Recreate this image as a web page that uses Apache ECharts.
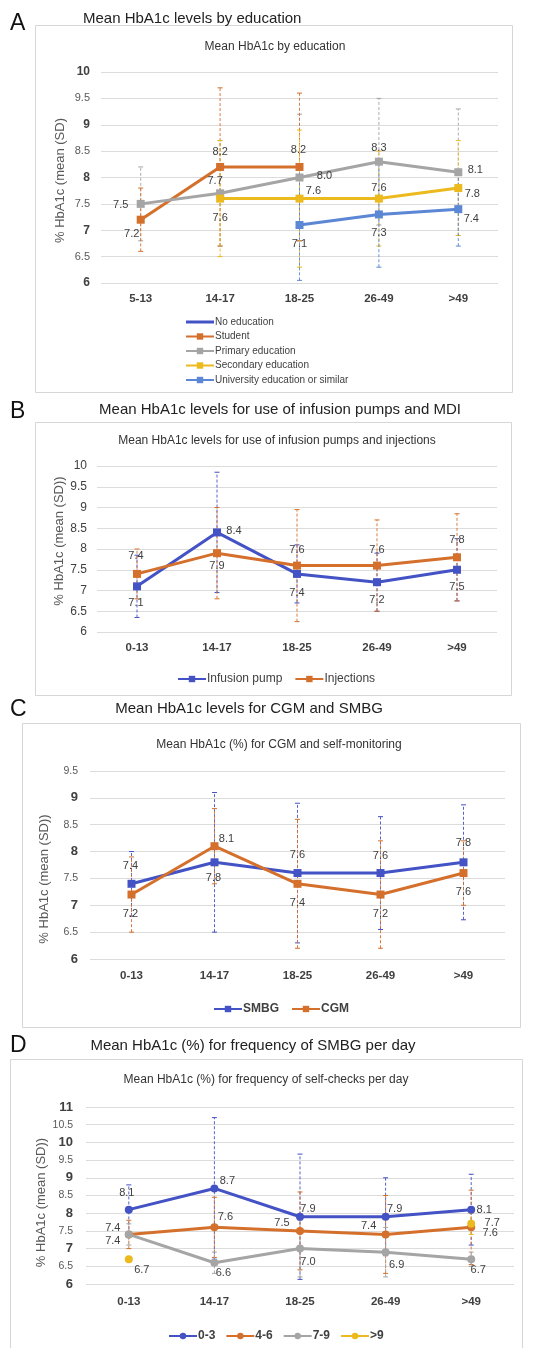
<!DOCTYPE html>
<html><head><meta charset="utf-8">
<script src="https://cdn.jsdelivr.net/npm/echarts@6/dist/echarts.min.js"></script>
<style>html,body{margin:0;padding:0;background:#fff;} #c{width:556px;height:1348px;}</style>
</head><body><div id="c"></div>
<script>
// ---------- DATA ----------
const ageCatsA = ['5-13', '14-17', '18-25', '26-49', '>49'];
const ageCats = ['0-13', '14-17', '18-25', '26-49', '>49'];

// Panel A: education
const noEducation = [null, null, null, null, null];
const student = [7.2, 8.2, 8.2, null, null];
const studentSD = [0.6, 1.5, 1.4, null, null];
const primaryEdu = [7.5, 7.7, 8.0, 8.3, 8.1];
const primaryEduSD = [0.7, 1.0, 1.2, 1.2, 1.2];
const secondaryEdu = [null, 7.6, 7.6, 7.6, 7.8];
const secondaryEduSD = [null, 1.1, 1.3, 0.9, 0.9];
const universityEdu = [null, null, 7.1, 7.3, 7.4];
const universityEduSD = [null, null, 1.05, 1.0, 0.7];

// Panel B: infusion pump vs injections
const infusionPump = [7.1, 8.4, 7.4, 7.2, 7.5];
const infusionPumpSD = [0.75, 1.45, 0.7, 0.7, 0.75];
const injections = [7.4, 7.9, 7.6, 7.6, 7.8];
const injectionsSD = [0.6, 1.1, 1.35, 1.1, 1.05];

// Panel C: SMBG vs CGM
const smbg = [7.4, 7.8, 7.6, 7.6, 7.8];
const smbgSD = [0.6, 1.3, 1.3, 1.05, 1.07];
const cgm = [7.2, 8.1, 7.4, 7.2, 7.6];
const cgmSD = [0.7, 0.7, 1.2, 1.0, 0.6];

// Panel D: frequency of self-checks per day
const freq03 = [8.1, 8.7, 7.9, 7.9, 8.1];
const freq03SD = [0.7, 2.0, 1.77, 1.1, 1.0];
const freq46 = [7.4, 7.6, 7.5, 7.4, 7.6];
const freq46SD = [0.4, 0.85, 1.1, 1.1, 1.05];
const freq79 = [7.4, 6.6, 7.0, 6.9, 6.7];
const freq79SD = [0.3, 0.3, 0.8, 0.7, 0.2];
const freq9 = [6.7, null, null, null, 7.7];
const freq9SD = [null, null, null, null, 0.3];

// ---------- STYLE ----------
const C_BLUE = '#4352c4', C_ORANGE = '#d4702c', C_GRAY = '#a5a5a5', C_YELLOW = '#ecba1e', C_LBLUE = '#5b87d4';
const FONT = '"Liberation Sans", Arial, sans-serif';
const TXT = '#404040';

// label offsets (style only): [dx, dy] from the marker centre
const offA = {
  student: [[-9, 14], [0, -15], [-1, -17], null, null],
  primary: [[-20, 1], [-5, -12], [25, -2], [0, -14], [17, -2]],
  secondary: [null, [0, 19], [14, -8], [0, -11], [14, 6]],
  university: [null, null, [0, 19], [0, 19], [13, 10]]
};
const offB = {
  pump: [[-1, 17], [17, -1], [0, 19], [0, 18], [0, 17]],
  inj: [[-1, -18], [0, 13], [0, -16], [0, -16], [0, -17]]
};
const offC = {
  smbg: [[-1, -18], [-1, 16], [0, -18], [0, -17], [0, -19]],
  cgm: [[-1, 19], [12, -7], [0, 19], [0, 19], [0, 19]]
};
const offD = {
  f03: [[-2, -17], [13, -7], [8, -8], [9, -8], [13, 0]],
  f46: [[-16, -6], [11, -10], [-18, -8], [-17, -8], [19, 6]],
  f79: [[-16, 7], [9, 10], [8, 13], [11, 13], [7, 11]],
  f9: [[13, 11], null, null, null, [21, -1]]
};

function lineSeries(name, values, color, idx, offsets, symbol, symbolSize, lw) {
  return {
    type: 'line', name: name, xAxisIndex: idx, yAxisIndex: idx, z: 3,
    symbol: symbol, symbolSize: symbolSize, showSymbol: symbol !== 'none',
    lineStyle: { color: color, width: lw }, itemStyle: { color: color },
    connectNulls: false, animation: false,
    data: values.map((v, i) => v == null ? '-' : {
      value: v,
      label: { show: true, position: 'inside', offset: offsets ? offsets[i] : [0, 0],
        formatter: p => Number(p.value).toFixed(1), color: TXT, fontSize: 11, fontFamily: FONT }
    })
  };
}

function errorSeries(name, values, sds, color, idx) {
  const data = [];
  values.forEach((v, i) => { if (v != null && sds[i] != null) data.push([i, v - sds[i], v + sds[i]]); });
  return {
    type: 'custom', name: name, xAxisIndex: idx, yAxisIndex: idx, z: 1, animation: false, silent: true,
    renderItem: function (params, api) {
      const lo = api.coord([api.value(0), api.value(1)]);
      const hi = api.coord([api.value(0), api.value(2)]);
      const st = { stroke: color, lineWidth: 1, lineDash: [3, 2], opacity: 0.9 };
      const cs = { stroke: color, lineWidth: 1 };
      return { type: 'group', children: [
        { type: 'line', shape: { x1: lo[0], y1: lo[1], x2: hi[0], y2: hi[1] }, style: st },
        { type: 'line', shape: { x1: hi[0] - 2.5, y1: hi[1], x2: hi[0] + 2.5, y2: hi[1] }, style: cs },
        { type: 'line', shape: { x1: lo[0] - 2.5, y1: lo[1], x2: lo[0] + 2.5, y2: lo[1] }, style: cs }
      ]};
    },
    data: data
  };
}

function richY(boldSize, normSize) {
  return {
    formatter: v => Number.isInteger(v) ? '{b|' + v + '}' : '{n|' + v + '}',
    rich: {
      b: { fontWeight: 'bold', fontSize: boldSize, color: TXT, fontFamily: FONT },
      n: { fontSize: normSize, color: '#595959', fontFamily: FONT }
    }
  };
}

const grids = [
  { left: 101, top: 72, width: 397, height: 211 },
  { left: 97, top: 466, width: 400, height: 166 },
  { left: 90, top: 771, width: 415, height: 188 },
  { left: 86, top: 1107, width: 428, height: 177 }
];
const xCats = [ageCatsA, ageCats, ageCats, ageCats];
const xMargins = [10, 10, 11, 12];
const xAxes = xCats.map((cats, i) => ({
  type: 'category', gridIndex: i, data: cats,
  axisLine: { show: false }, axisTick: { show: false },
  axisLabel: { fontWeight: 'bold', fontSize: 11.5, color: TXT, fontFamily: FONT, margin: xMargins[i] }
}));
const yName = '% HbA1c (mean (SD))';
const yAxes = [
  { min: 6, max: 10, name: '% HbA1c (mean (SD)', nameGap: 34, pad: [0, 6, 0, 0], lbl: Object.assign({ margin: 11 }, richY(12, 11)) },
  { min: 6, max: 10, name: yName, nameGap: 31, pad: [0, 0, 0, 16], lbl: { margin: 10, fontSize: 12, color: TXT, fontFamily: FONT } },
  { min: 6, max: 9.5, name: yName, nameGap: 39, pad: [0, 28, 0, 0], lbl: Object.assign({ margin: 12 }, richY(13, 10.5)) },
  { min: 6, max: 11, name: yName, nameGap: 38, pad: [0, 14, 0, 0], lbl: Object.assign({ margin: 13 }, richY(13, 10.5)) }
].map((y, i) => ({
  type: 'value', gridIndex: i, min: y.min, max: y.max, interval: 0.5,
  name: y.name, nameLocation: 'middle', nameGap: y.nameGap, nameMoveOverlap: false,
  nameTextStyle: { fontSize: 13, color: '#595959', fontFamily: FONT, padding: y.pad },
  axisLine: { show: false }, axisTick: { show: false },
  splitLine: { lineStyle: { color: '#dcdcdc', width: 1 } },
  axisLabel: y.lbl
}));

const series = [
  // A
  errorSeries('A-sd-primary', primaryEdu, primaryEduSD, C_GRAY, 0),
  errorSeries('A-sd-student', student, studentSD, C_ORANGE, 0),
  errorSeries('A-sd-secondary', secondaryEdu, secondaryEduSD, C_YELLOW, 0),
  errorSeries('A-sd-university', universityEdu, universityEduSD, C_LBLUE, 0),
  lineSeries('No education', noEducation, C_BLUE, 0, null, 'none', 0, 3),
  lineSeries('Student', student, C_ORANGE, 0, offA.student, 'rect', 8, 3),
  lineSeries('Primary education', primaryEdu, C_GRAY, 0, offA.primary, 'rect', 8, 3),
  lineSeries('Secondary education', secondaryEdu, C_YELLOW, 0, offA.secondary, 'rect', 8, 3),
  lineSeries('University education or similar', universityEdu, C_LBLUE, 0, offA.university, 'rect', 8, 3),
  // B
  errorSeries('B-sd-pump', infusionPump, infusionPumpSD, C_BLUE, 1),
  errorSeries('B-sd-inj', injections, injectionsSD, C_ORANGE, 1),
  lineSeries('Infusion pump', infusionPump, C_BLUE, 1, offB.pump, 'rect', 8, 3),
  lineSeries('Injections', injections, C_ORANGE, 1, offB.inj, 'rect', 8, 3),
  // C
  errorSeries('C-sd-smbg', smbg, smbgSD, C_BLUE, 2),
  errorSeries('C-sd-cgm', cgm, cgmSD, C_ORANGE, 2),
  lineSeries('SMBG', smbg, C_BLUE, 2, offC.smbg, 'rect', 8, 3),
  lineSeries('CGM', cgm, C_ORANGE, 2, offC.cgm, 'rect', 8, 3),
  // D
  errorSeries('D-sd-03', freq03, freq03SD, C_BLUE, 3),
  errorSeries('D-sd-46', freq46, freq46SD, C_ORANGE, 3),
  errorSeries('D-sd-79', freq79, freq79SD, C_GRAY, 3),
  errorSeries('D-sd-9', freq9, freq9SD, C_YELLOW, 3),
  lineSeries('0-3', freq03, C_BLUE, 3, offD.f03, 'circle', 8, 3),
  lineSeries('4-6', freq46, C_ORANGE, 3, offD.f46, 'circle', 8, 3),
  lineSeries('7-9', freq79, C_GRAY, 3, offD.f79, 'circle', 8, 3),
  lineSeries('>9', freq9, C_YELLOW, 3, offD.f9, 'circle', 8, 3)
];

const legendBase = { itemWidth: 28, itemHeight: 8, selectedMode: false };
const legends = [
  Object.assign({}, legendBase, { orient: 'vertical', left: 180, top: 312, itemGap: 4.5,
    data: [{ name: 'No education', icon: 'path://M0,0 L28,0 L28,3 L0,3 Z' }, 'Student', 'Primary education', 'Secondary education', 'University education or similar'],
    textStyle: { fontSize: 10, color: TXT, fontFamily: FONT, padding: [0, 0, 0, -4] } }),
  Object.assign({}, legendBase, { left: 172, top: 668, itemGap: 12, data: ['Infusion pump', 'Injections'],
    textStyle: { fontSize: 12, color: TXT, fontFamily: FONT, padding: [0, 0, 0, -4] } }),
  Object.assign({}, legendBase, { left: 208, top: 998, itemGap: 12, data: ['SMBG', 'CGM'],
    textStyle: { fontSize: 12, fontWeight: 'bold', color: TXT, fontFamily: FONT, padding: [0, 0, 0, -4] } }),
  Object.assign({}, legendBase, { left: 163, top: 1325, itemGap: 10, data: ['0-3', '4-6', '7-9', '>9'],
    textStyle: { fontSize: 12, fontWeight: 'bold', color: TXT, fontFamily: FONT, padding: [0, 0, 0, -4] } })
];

function txt(x, y, s, size, align, color) {
  return { type: 'text', x: x, y: y, silent: true,
    style: { text: s, fontSize: size, fontFamily: FONT, fill: color || '#222', align: align || 'center', verticalAlign: 'middle' } };
}
function box(x, y, w, h) {
  return { type: 'rect', silent: true, shape: { x: x + 0.5, y: y + 0.5, width: w, height: h },
    style: { fill: 'none', stroke: '#d6d6d6', lineWidth: 1 } };
}
const graphics = [
  box(35, 25, 477, 367), box(35, 422, 476, 273), box(22, 723, 498, 304), box(10, 1059, 512, 300),
  txt(10, 24, 'A', 23, 'left', '#111'),
  txt(83, 19, 'Mean HbA1c levels by education', 15, 'left'),
  txt(275, 47, 'Mean HbA1c by education', 12, 'center', '#333'),
  txt(10, 412, 'B', 23, 'left', '#111'),
  txt(280, 410, 'Mean HbA1c levels for use of infusion pumps and MDI', 15, 'center'),
  txt(277, 441, 'Mean HbA1c levels for use of infusion pumps and injections', 12, 'center', '#333'),
  txt(10, 710, 'C', 23, 'left', '#111'),
  txt(249, 709, 'Mean HbA1c levels for CGM and SMBG', 15, 'center'),
  txt(279, 745, 'Mean HbA1c (%) for CGM and self-monitoring', 12, 'center', '#333'),
  txt(10, 1046, 'D', 23, 'left', '#111'),
  txt(253, 1046, 'Mean HbA1c (%) for frequency of SMBG per day', 15, 'center'),
  txt(266, 1080, 'Mean HbA1c (%) for frequency of self-checks per day', 12, 'center', '#333')
];

const chart = echarts.init(document.getElementById('c'), null, { renderer: 'canvas' });
chart.setOption({
  backgroundColor: '#fff',
  animation: false,
  textStyle: { fontFamily: FONT },
  grid: grids,
  xAxis: xAxes,
  yAxis: yAxes,
  legend: legends,
  graphic: graphics,
  series: series
});
</script></body></html>
